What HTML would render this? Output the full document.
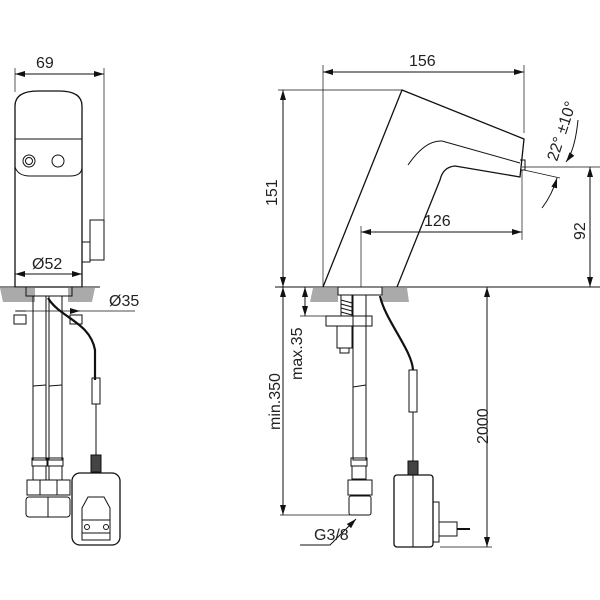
<!DOCTYPE html>
<html><head><style>body{margin:0;background:#fff}svg{display:block}text{font-family:"Liberation Sans",sans-serif;font-size:16px;fill:#222}</style></head><body>
<svg width="600" height="600" viewBox="0 0 600 600" xmlns="http://www.w3.org/2000/svg">
<defs><marker id="a" viewBox="0 0 10 6" refX="10" refY="3" markerWidth="10" markerHeight="6" orient="auto-start-reverse" markerUnits="userSpaceOnUse"><path d="M0,0L10,3L0,6z" fill="#111"/></marker></defs>
<g stroke="#111" fill="none" stroke-width="1">
<line x1="15" y1="68" x2="15" y2="92" stroke-width="0.7"/><line x1="104" y1="68" x2="104" y2="222" stroke-width="0.7"/>
<line x1="15" y1="74" x2="104" y2="74" marker-start="url(#a)" marker-end="url(#a)"/>
<path d="M15,287V106Q15,91 38,91H59Q82,91 82,106V287Z" stroke-width="1.3"/>
<line x1="15" y1="139" x2="82" y2="139"/>
<path d="M15,167Q18,176 30,176H70Q82,176 82,167"/>
<circle cx="29" cy="161" r="6"/><circle cx="29" cy="161" r="3.5"/><circle cx="58" cy="161" r="6"/>
<rect x="90" y="220" width="14" height="40"/><path d="M82,242H90V262H82"/>
<line x1="15" y1="274" x2="82" y2="274" marker-start="url(#a)" marker-end="url(#a)"/>
<path d="M0,288H35V302H3Z M68,288H95L92,302H68Z" fill="#aaa" stroke="none"/>
<line x1="0" y1="287" x2="100" y2="287"/>
<rect x="26" y="287" width="46" height="9"/>
<line x1="15" y1="311" x2="135" y2="311" stroke-width="0.7"/>
<path d="M26,311h-10M70,311h10" marker-end="url(#a)"/>
<rect x="14" y="315" width="12" height="9"/><rect x="70" y="315" width="12" height="9"/>
<rect x="33" y="296" width="13" height="164"/><rect x="49" y="296" width="13" height="164"/>
<line x1="33" y1="386" x2="46" y2="385"/><line x1="49" y1="386" x2="62" y2="385"/>
<rect x="32" y="458" width="15" height="8"/><rect x="48" y="458" width="15" height="8"/>
<rect x="33" y="466" width="13" height="14"/><rect x="49" y="466" width="13" height="14"/>
<rect x="27" y="480" width="43" height="15"/><line x1="40" y1="480" x2="40" y2="495"/><line x1="57" y1="480" x2="57" y2="495"/>
<rect x="26" y="497" width="44" height="20" rx="3"/><line x1="48" y1="497" x2="48" y2="517"/>
<path d="M48,298C60,318 90,322 95,350V380" stroke-width="2.2"/>
<rect x="92" y="378" width="8" height="26"/><line x1="96" y1="404" x2="96" y2="455"/>
<rect x="91" y="455" width="10" height="17" fill="#444"/>
<rect x="72" y="473" width="48" height="72" rx="8" stroke-width="1.3"/>
<path d="M82,540V508L88,497H104L110,508V540Z"/><path d="M82,520H110V533H82Z"/>
<circle cx="87" cy="527" r="2.5"/><circle cx="106" cy="527" r="2.5"/>
<line x1="323" y1="65" x2="323" y2="287" stroke-width="0.7"/><line x1="524" y1="65" x2="524" y2="133" stroke-width="0.7"/>
<line x1="323" y1="72" x2="524" y2="72" marker-start="url(#a)" marker-end="url(#a)"/>
<line x1="278" y1="90" x2="402" y2="90" stroke-width="0.7"/>
<line x1="283" y1="90" x2="283" y2="287" marker-start="url(#a)" marker-end="url(#a)"/>
<path d="M323,287L402,90L524,139L520,177L455,166Q443,167 440,180L397,287" stroke-width="1.3" stroke-linejoin="round"/>
<path d="M520,160h5v10h-5"/>
<path d="M408,165Q425,140 442,141L520,163"/>
<line x1="361" y1="226" x2="361" y2="287" stroke-width="0.7"/><line x1="522" y1="170" x2="522" y2="240" stroke-width="0.7"/>
<line x1="361" y1="232" x2="522" y2="232" marker-start="url(#a)" marker-end="url(#a)"/>
<line x1="522" y1="167" x2="600" y2="167" stroke-width="0.7"/>
<line x1="590" y1="167" x2="590" y2="287" marker-start="url(#a)" marker-end="url(#a)"/>
<line x1="524" y1="170" x2="560" y2="178" stroke-width="0.7"/>
<path d="M578,120Q575,150 566,162" marker-end="url(#a)"/>
<path d="M542,208Q552,195 557,178" marker-end="url(#a)"/>
<line x1="275" y1="287" x2="600" y2="287"/>
<path d="M313,288H338V302H310Z M382,288H407L409,302H382Z" fill="#aaa" stroke="none"/>
<rect x="338" y="287" width="44" height="8"/>
<rect x="341" y="295" width="11" height="21"/><path d="M341,300l11,3M341,304l11,3M341,308l11,3M341,312l11,3"/>
<rect x="353" y="295" width="13" height="165"/><line x1="353" y1="387" x2="366" y2="385"/>
<rect x="326" y="316" width="46" height="10"/>
<rect x="337" y="326" width="15" height="22"/><rect x="340" y="348" width="9" height="5"/>
<rect x="351" y="458" width="16" height="8"/><rect x="352" y="466" width="14" height="13"/>
<rect x="348" y="480" width="24" height="15"/><rect x="349" y="496" width="22" height="19" rx="2"/>
<path d="M380,296C385,320 412,350 413,370V370" stroke-width="2.2"/>
<rect x="409" y="370" width="8" height="42"/><line x1="413" y1="412" x2="413" y2="462"/>
<rect x="408" y="461" width="10" height="14" fill="#444"/>
<rect x="394" y="475" width="39" height="72" rx="3" stroke-width="1.3"/>
<line x1="413" y1="475" x2="413" y2="547"/>
<rect x="433" y="502" width="6" height="40"/><rect x="439" y="522" width="18" height="14"/><line x1="457" y1="529" x2="470" y2="529" stroke-width="2"/>
<line x1="300" y1="316" x2="352" y2="316" stroke-width="0.7"/>
<line x1="305" y1="287" x2="305" y2="316" marker-start="url(#a)" marker-end="url(#a)"/>
<line x1="283" y1="287" x2="283" y2="515" marker-start="url(#a)" marker-end="url(#a)"/>
<line x1="280" y1="515" x2="350" y2="515" stroke-width="0.7"/>
<line x1="487" y1="287" x2="487" y2="547" marker-start="url(#a)" marker-end="url(#a)"/>
<line x1="440" y1="547" x2="492" y2="547" stroke-width="0.7"/>
<path d="M300,545H330L356,519" marker-end="url(#a)"/>
</g>
<text x="36" y="68">69</text>
<text x="32" y="269">Ø52</text>
<text x="109" y="306">Ø35</text>
<text x="409" y="66">156</text>
<text x="424" y="226">126</text>
<text x="314" y="540">G3/8</text>
<text transform="translate(277,206) rotate(-90)">151</text>
<text transform="translate(585,240) rotate(-90)">92</text>
<text transform="translate(488,444) rotate(-90)">2000</text>
<text transform="translate(280,430) rotate(-90)">min.350</text>
<text transform="translate(302,380) rotate(-90)">max.35</text>
<text transform="translate(557,162) rotate(-72)">22° ±10°</text>
</svg>
</body></html>
